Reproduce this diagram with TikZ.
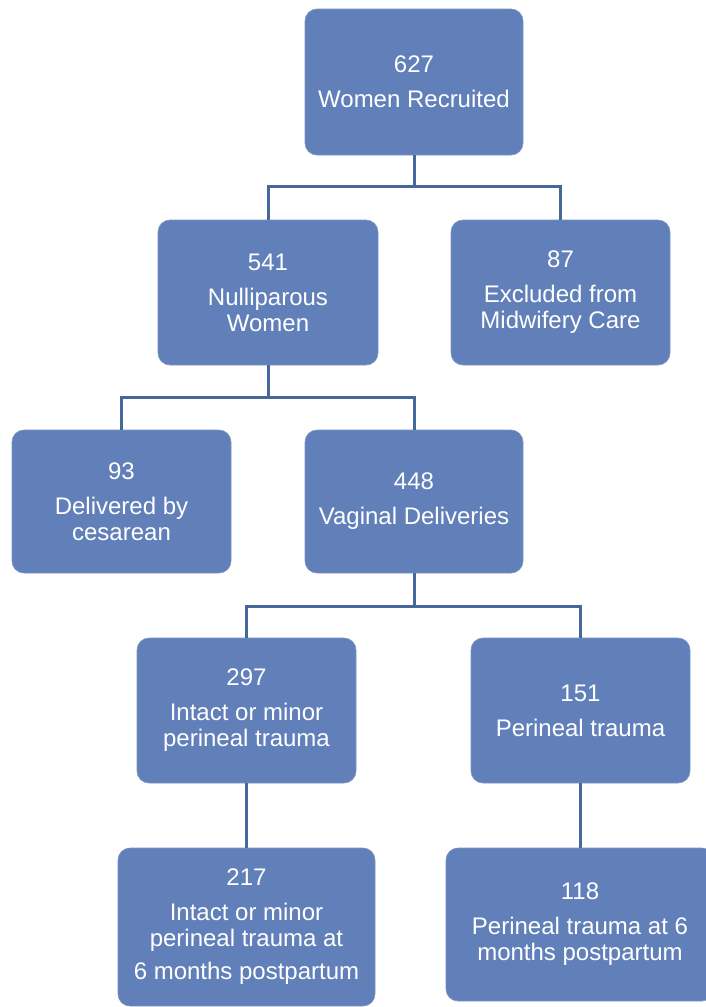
\documentclass[tikz,border=0pt]{standalone}
\usepackage{fontspec}
\setmainfont{Liberation Sans}
\definecolor{boxfill}{HTML}{6180BA}
\definecolor{linec}{HTML}{45679A}
\begin{document}
\begin{tikzpicture}[x=1pt,y=-1pt,
  box/.style={draw=boxfill!85!white,line width=0.6pt,fill=boxfill,rounded corners=12pt,text=white,align=center,inner sep=0pt,
    font=\fontsize{24}{26}\selectfont},
  conn/.style={draw=linec,line width=3pt}]
\useasboundingbox (0,0) rectangle (706,1007);
\fill[white] (0,0) rectangle (706,1007);
\node[box,minimum width=218pt,minimum height=146pt] (b1) at (414,82) {627\\[9pt]Women Recruited};
\node[box,minimum width=220pt,minimum height=145pt] (b541) at (268,292.5) {541\\[9pt]Nulliparous\\Women};
\node[box,minimum width=219pt,minimum height=145pt] (b87) at (560.5,292.5) {87\\[9pt]Excluded from\\Midwifery Care};
\node[box,minimum width=219pt,minimum height=143pt] (b93) at (121.5,501.5) {93\\[9pt]Delivered by\\cesarean};
\node[box,minimum width=218pt,minimum height=143pt] (b448) at (414,501.5) {448\\[9pt]Vaginal Deliveries};
\node[box,minimum width=219pt,minimum height=145pt] (b297) at (246.5,710.5) {297\\[9pt]Intact or minor\\perineal trauma};
\node[box,minimum width=219pt,minimum height=145pt] (b151) at (580.5,710.5) {151\\[9pt]Perineal trauma};
\node[box,minimum width=257pt,minimum height=158pt] (b217) at (246.5,927) {217\\[9pt]Intact or minor\\perineal trauma at\\[7pt]6 months postpartum};
\node[box,minimum width=268pt,minimum height=153pt] (b118) at (580,924.5) {118\\[9pt]Perineal trauma at 6\\months postpartum};
\coordinate (j1) at (414,186.5);
\coordinate (j2) at (268,397.5);
\coordinate (j3) at (414,606);
\draw[conn] (b1.south) -- (j1);
\draw[conn] (b541.north) |- (j1) -| (b87.north);
\draw[conn] (b541.south) -- (j2);
\draw[conn] (b93.north) |- (j2) -| (b448.north);
\draw[conn] (b448.south) -- (j3);
\draw[conn] (b297.north) |- (j3) -| (b151.north);
\draw[conn] (b297.south) -- (b217.north);
\draw[conn] (b151.south) -- (b151.south |- b118.north);
\end{tikzpicture}
\end{document}
